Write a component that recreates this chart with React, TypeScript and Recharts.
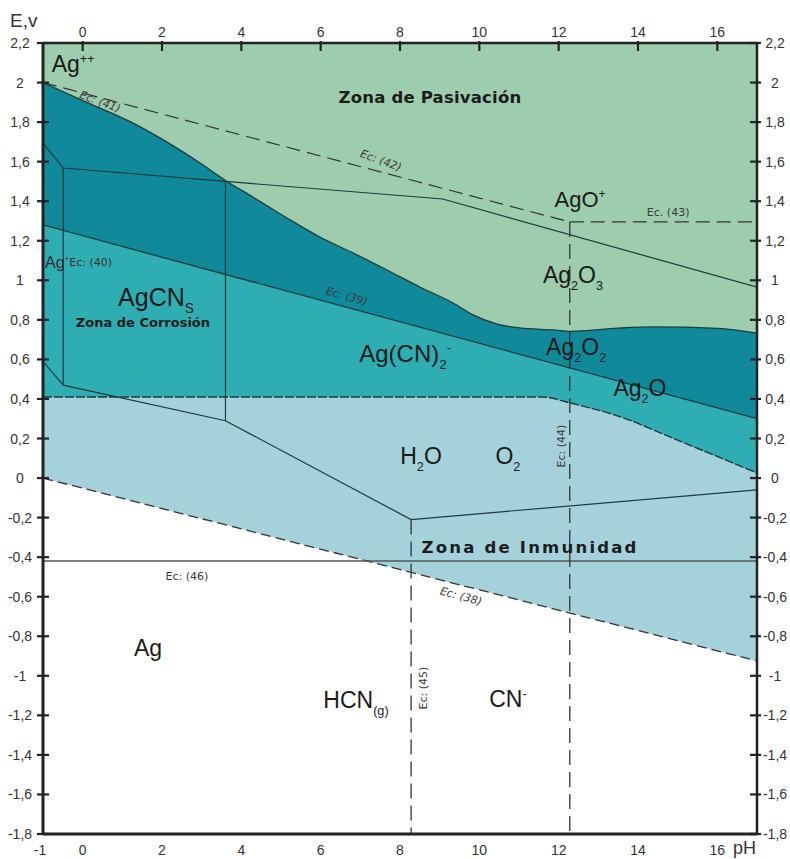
import React from 'react'
import { ComposedChart, XAxis, YAxis, Area, Line, ReferenceDot, Label } from 'recharts'

// axis ticks
const yTicks = [-1.8, -1.6, -1.4, -1.2, -1, -0.8, -0.6, -0.4, -0.2, 0, 0.2, 0.4, 0.6, 0.8, 1, 1.2, 1.4, 1.6, 1.8, 2, 2.2]
const topTicks = [0, 2, 4, 6, 8, 10, 12, 14, 16]
const bottomTicks = [-1, 0, 2, 4, 6, 8, 10, 12, 14, 16]

// region tops (pH, E) - each area is filled down to the bottom of the plot
const passivationTop = [
  { ph: -1, e: 2.2 },
  { ph: 17, e: 2.2 },
]
const darkZoneTop = [
  { ph: -1, e: 2.0 },
  { ph: 0.1, e: 1.9 },
  { ph: 1.27, e: 1.795 },
  { ph: 2.2, e: 1.69 },
  { ph: 2.96, e: 1.593 },
  { ph: 3.6, e: 1.505 },
  { ph: 4.29, e: 1.421 },
  { ph: 5.15, e: 1.315 },
  { ph: 5.98, e: 1.219 },
  { ph: 6.82, e: 1.138 },
  { ph: 7.67, e: 1.052 },
  { ph: 8.5, e: 0.966 },
  { ph: 9.34, e: 0.885 },
  { ph: 9.84, e: 0.825 },
  { ph: 10.45, e: 0.779 },
  { ph: 11.02, e: 0.759 },
  { ph: 11.86, e: 0.749 },
  { ph: 12.3, e: 0.742 },
  { ph: 13.5, e: 0.758 },
  { ph: 14.4, e: 0.764 },
  { ph: 16, e: 0.757 },
  { ph: 17, e: 0.733 },
]
const eq39 = [
  { ph: -1, e: 1.28 },
  { ph: 17, e: 0.3 },
]
const waterTop = [
  { ph: -1, e: 0.41 },
  { ph: 11.6, e: 0.41 },
  { ph: 12.28, e: 0.38 },
  { ph: 13.55, e: 0.31 },
  { ph: 14.98, e: 0.193 },
  { ph: 17, e: 0.026 },
]
const eq38 = [
  { ph: -1, e: 0 },
  { ph: 17, e: -0.925 },
]

// solid boundaries
const ag2o3Line = [
  { ph: -1, e: 1.694 },
  { ph: -0.49, e: 1.568 },
  { ph: 3.6, e: 1.5 },
  { ph: 9.08, e: 1.411 },
  { ph: 17, e: 0.965 },
]
const lowerLine = [
  { ph: -1, e: 0.59 },
  { ph: -0.49, e: 0.47 },
  { ph: 3.6, e: 0.29 },
  { ph: 8.28, e: -0.21 },
  { ph: 17, e: -0.06 },
]
const agPlusWall = [
  { ph: -0.49, e: 1.568 },
  { ph: -0.49, e: 0.47 },
]
const agcnWall = [
  { ph: 3.6, e: 1.5 },
  { ph: 3.6, e: 0.29 },
]

// dashed equilibria
const eq41 = [
  { ph: -1, e: 2.0 },
  { ph: 12.28, e: 1.295 },
]
const eq43 = [
  { ph: 12.28, e: 1.295 },
  { ph: 17, e: 1.295 },
]
const eq44 = [
  { ph: 12.28, e: 1.295 },
  { ph: 12.28, e: -1.8 },
]
const eq45 = [
  { ph: 8.28, e: -0.21 },
  { ph: 8.28, e: -1.8 },
]
const eq46 = [
  { ph: -1, e: -0.42 },
  { ph: 17, e: -0.42 },
]

type Seg = { t: string; s?: 'sub' | 'sup' }

const speciesLabels: { ph: number; e: number; size: number; segs: Seg[] }[] = [
  { ph: -0.24, e: 2.094, size: 23, segs: [{ t: 'Ag' }, { t: '++', s: 'sup' }] },
  { ph: 12.54, e: 1.41, size: 22, segs: [{ t: 'AgO' }, { t: '+', s: 'sup' }] },
  { ph: 12.36, e: 1.027, size: 23, segs: [{ t: 'Ag' }, { t: '2', s: 'sub' }, { t: 'O' }, { t: '3', s: 'sub' }] },
  { ph: 1.85, e: 0.918, size: 25, segs: [{ t: 'AgCN' }, { t: 'S', s: 'sub' }] },
  { ph: 8.13, e: 0.632, size: 24, segs: [{ t: 'Ag(CN)' }, { t: '2', s: 'sub' }, { t: '-', s: 'sup' }] },
  { ph: 12.44, e: 0.663, size: 23, segs: [{ t: 'Ag' }, { t: '2', s: 'sub' }, { t: 'O' }, { t: '2', s: 'sub' }] },
  { ph: 14.05, e: 0.455, size: 23, segs: [{ t: 'Ag' }, { t: '2', s: 'sub' }, { t: 'O' }] },
  { ph: 8.53, e: 0.112, size: 23, segs: [{ t: 'H' }, { t: '2', s: 'sub' }, { t: 'O' }] },
  { ph: 10.72, e: 0.112, size: 23, segs: [{ t: 'O' }, { t: '2', s: 'sub' }] },
  { ph: 1.65, e: -0.859, size: 23, segs: [{ t: 'Ag' }] },
  { ph: 6.89, e: -1.122, size: 23, segs: [{ t: 'HCN' }, { t: '(g)', s: 'sub' }] },
  { ph: 10.72, e: -1.117, size: 23, segs: [{ t: 'CN' }, { t: '-', s: 'sup' }] },
]

const zoneLabels = [
  { ph: 8.756, e: 1.927, text: 'Zona de Pasivación', size: 16.5, spacing: 0.2 },
  { ph: 1.52, e: 0.789, text: 'Zona de Corrosión', size: 13, spacing: 0 },
  { ph: 11.28, e: -0.349, text: 'Zona de Inmunidad', size: 16.5, spacing: 2.2 },
]

const eqLabels = [
  { ph: 0.44, e: 1.905, text: 'Ec: (41)', rot: 20, italic: true },
  { ph: 7.52, e: 1.608, text: 'Ec: (42)', rot: 20, italic: true },
  { ph: 14.76, e: 1.345, text: 'Ec. (43)', rot: 0, italic: false },
  { ph: 6.66, e: 0.921, text: 'Ec: (39)', rot: 15, italic: true },
  { ph: 12.07, e: 0.162, text: 'Ec: (44)', rot: -90, italic: false },
  { ph: 2.63, e: -0.495, text: 'Ec: (46)', rot: 0, italic: false },
  { ph: 9.54, e: -0.596, text: 'Ec: (38)', rot: 15, italic: true },
  { ph: 8.58, e: -1.062, text: 'Ec: (45)', rot: -90, italic: false },
]

const SANS = '"Liberation Sans", Arial, sans-serif'
const ROUND = '"DejaVu Sans", sans-serif'
const AXIS = '#232323'
const EDGE = '#1d3a3c'

const C_PASIV = '#9dcdad'
const C_DARK = '#108a9a'
const C_MID = '#2eaeb2'
const C_WATER = '#a5d1da'

const fmt = (v: number) => String(Math.round(v * 10) / 10).replace('.', ',')

function renderSegs(segs: Seg[], size: number) {
  let shift = 0
  return segs.map((sg, i) => {
    const target = sg.s === 'sub' ? size * 0.3 : sg.s === 'sup' ? -size * 0.42 : 0
    const dy = target - shift
    shift = target
    return (
      <tspan key={i} dy={dy} fontSize={sg.s ? size * 0.55 : size}>
        {sg.t}
      </tspan>
    )
  })
}

const LeftTick = (p: any) => {
  const { x, y, payload } = p
  return (
    <g>
      <line x1={x - 6} x2={x + 6} y1={y} y2={y} stroke={AXIS} strokeWidth={2.2} />
      <text x={x - 23} y={y + 5} textAnchor="middle" fontSize={14} fill="#333" fontFamily={SANS}>
        {fmt(payload.value)}
      </text>
    </g>
  )
}

const RightTick = (p: any) => {
  const { x, y, payload } = p
  return (
    <g>
      <line x1={x - 7} x2={x + 4} y1={y} y2={y} stroke={AXIS} strokeWidth={2.2} />
      <text x={x + 18} y={y + 5} textAnchor="middle" fontSize={14} fill="#333" fontFamily={SANS}>
        {fmt(payload.value)}
      </text>
    </g>
  )
}

const TopTick = (p: any) => {
  const { x, y, payload } = p
  return (
    <g>
      <line x1={x} x2={x} y1={y - 2} y2={y + 8} stroke={AXIS} strokeWidth={2.2} />
      <text x={x} y={y - 6} textAnchor="middle" fontSize={14} fill="#333" fontFamily={SANS}>
        {fmt(payload.value)}
      </text>
    </g>
  )
}

const BottomTick = (p: any) => {
  const { x, y, payload } = p
  return (
    <text x={payload.value === -1 ? x - 3 : x} y={y + 21} textAnchor="middle" fontSize={14} fill="#333" fontFamily={SANS}>
      {fmt(payload.value)}
    </text>
  )
}

const AxisName = ({ text, dx, dy, size, viewBox }: any) => (
  <text x={viewBox.x + dx} y={viewBox.y + dy} fontSize={size} fill="#333" fontFamily={SANS}>
    {text}
  </text>
)

const lineProps = {
  xAxisId: 'b',
  yAxisId: 'l',
  dataKey: 'e',
  type: 'linear' as const,
  dot: false,
  activeDot: false,
  isAnimationActive: false,
  legendType: 'none' as const,
}

const areaProps = {
  xAxisId: 'b',
  yAxisId: 'l',
  dataKey: 'e',
  baseValue: 'dataMin' as const,
  fillOpacity: 1,
  dot: false,
  activeDot: false,
  isAnimationActive: false,
  legendType: 'none' as const,
}

export default function App() {
  return (
    <div style={{ position: 'absolute', left: 0, top: 0, width: 790, height: 859, background: '#fff' }}>
      <ComposedChart width={790} height={859} margin={{ top: 0, right: 0, bottom: 0, left: 0 }}>
        <XAxis
          xAxisId="b"
          dataKey="ph"
          type="number"
          orientation="bottom"
          domain={[-1, 17]}
          allowDataOverflow
          ticks={bottomTicks}
          interval={0}
          height={25}
          tickSize={0}
          tickMargin={0}
          tickLine={false}
          axisLine={{ stroke: AXIS, strokeWidth: 3 }}
          tick={<BottomTick />}
        >
          <Label content={<AxisName text="pH" dx={690} dy={20} size={18} />} />
        </XAxis>
        <XAxis
          xAxisId="t"
          dataKey="ph"
          type="number"
          orientation="top"
          domain={[-1, 17]}
          allowDataOverflow
          ticks={topTicks}
          interval={0}
          height={43}
          tickSize={0}
          tickMargin={0}
          tickLine={false}
          axisLine={{ stroke: AXIS, strokeWidth: 2.5 }}
          tick={<TopTick />}
        />
        <YAxis
          yAxisId="l"
          type="number"
          orientation="left"
          domain={[-1.8, 2.2]}
          allowDataOverflow
          ticks={yTicks}
          interval={0}
          width={43}
          tickSize={0}
          tickMargin={0}
          tickLine={false}
          axisLine={{ stroke: AXIS, strokeWidth: 3 }}
          tick={<LeftTick />}
        >
          <Label content={<AxisName text="E,v" dx={10} dy={-16} size={19} />} />
        </YAxis>
        <YAxis
          yAxisId="r"
          type="number"
          orientation="right"
          domain={[-1.8, 2.2]}
          allowDataOverflow
          ticks={yTicks}
          interval={0}
          width={33}
          tickSize={0}
          tickMargin={0}
          tickLine={false}
          axisLine={{ stroke: AXIS, strokeWidth: 2.5 }}
          tick={<RightTick />}
        />

        <Area {...areaProps} data={passivationTop} fill={C_PASIV} stroke="none" type="linear" />
        <Area {...areaProps} data={darkZoneTop} fill={C_DARK} stroke={EDGE} strokeWidth={1.3} type="monotone" />
        <Area {...areaProps} data={eq39} fill={C_MID} stroke={EDGE} strokeWidth={1.3} type="linear" />
        <Area {...areaProps} data={waterTop} fill={C_WATER} stroke={EDGE} strokeWidth={1.4} strokeDasharray="9 2" type="monotone" />
        <Area {...areaProps} data={eq38} fill="#ffffff" stroke="#333" strokeWidth={1.3} strokeDasharray="10 5" type="linear" />

        <Line {...lineProps} data={ag2o3Line} stroke={EDGE} strokeWidth={1.2} />
        <Line {...lineProps} data={lowerLine} stroke={EDGE} strokeWidth={1.2} />
        <Line {...lineProps} data={agPlusWall} stroke={EDGE} strokeWidth={1.2} />
        <Line {...lineProps} data={agcnWall} stroke={EDGE} strokeWidth={1.2} />
        <Line {...lineProps} data={eq46} stroke="#555" strokeWidth={1.5} />
        <Line {...lineProps} data={eq41} stroke="#333" strokeWidth={1.2} strokeDasharray="14 7" />
        <Line {...lineProps} data={eq43} stroke="#333" strokeWidth={1.2} strokeDasharray="14 7" />
        <Line {...lineProps} data={eq44} stroke="#333" strokeWidth={1.3} strokeDasharray="15 7" />
        <Line {...lineProps} data={eq45} stroke="#333" strokeWidth={1.3} strokeDasharray="15 7" />

        {speciesLabels.map((l, i) => (
          <ReferenceDot
            key={'s' + i}
            xAxisId="b"
            yAxisId="l"
            x={l.ph}
            y={l.e}
            r={0}
            ifOverflow="visible"
            shape={(p: any) => (
              <text
                x={p.cx}
                y={p.cy + l.size * 0.36}
                textAnchor="middle"
                fontSize={l.size}
                fill="#1a1a1a"
                fontFamily={SANS}
              >
                {renderSegs(l.segs, l.size)}
              </text>
            )}
          />
        ))}

        <ReferenceDot
          xAxisId="b"
          yAxisId="l"
          x={-0.95}
          y={1.093}
          r={0}
          ifOverflow="visible"
          shape={(p: any) => (
            <text x={p.cx} y={p.cy + 6} fontSize={16} fill="#2a2a2a" fontFamily={SANS}>
              <tspan>Ag</tspan>
              <tspan dy={-7} fontSize={8}>+</tspan>
              <tspan dy={5} fontSize={11} fontFamily={ROUND} fill="#333">Ec: (40)</tspan>
            </text>
          )}
        />

        {zoneLabels.map((l, i) => (
          <ReferenceDot
            key={'z' + i}
            xAxisId="b"
            yAxisId="l"
            x={l.ph}
            y={l.e}
            r={0}
            ifOverflow="visible"
            shape={(p: any) => (
              <text
                x={p.cx}
                y={p.cy + l.size * 0.36}
                textAnchor="middle"
                fontSize={l.size}
                fontWeight="bold"
                letterSpacing={l.spacing}
                fill="#1c1c1c"
                fontFamily={ROUND}
              >
                {l.text}
              </text>
            )}
          />
        ))}

        {eqLabels.map((l, i) => (
          <ReferenceDot
            key={'e' + i}
            xAxisId="b"
            yAxisId="l"
            x={l.ph}
            y={l.e}
            r={0}
            ifOverflow="visible"
            shape={(p: any) => (
              <text
                transform={`translate(${p.cx},${p.cy}) rotate(${l.rot})`}
                x={0}
                y={4}
                textAnchor="middle"
                fontSize={11}
                fontStyle={l.italic ? 'italic' : 'normal'}
                fill="#3a3a3a"
                fontFamily={ROUND}
              >
                {l.text}
              </text>
            )}
          />
        ))}
      </ComposedChart>
    </div>
  )
}
